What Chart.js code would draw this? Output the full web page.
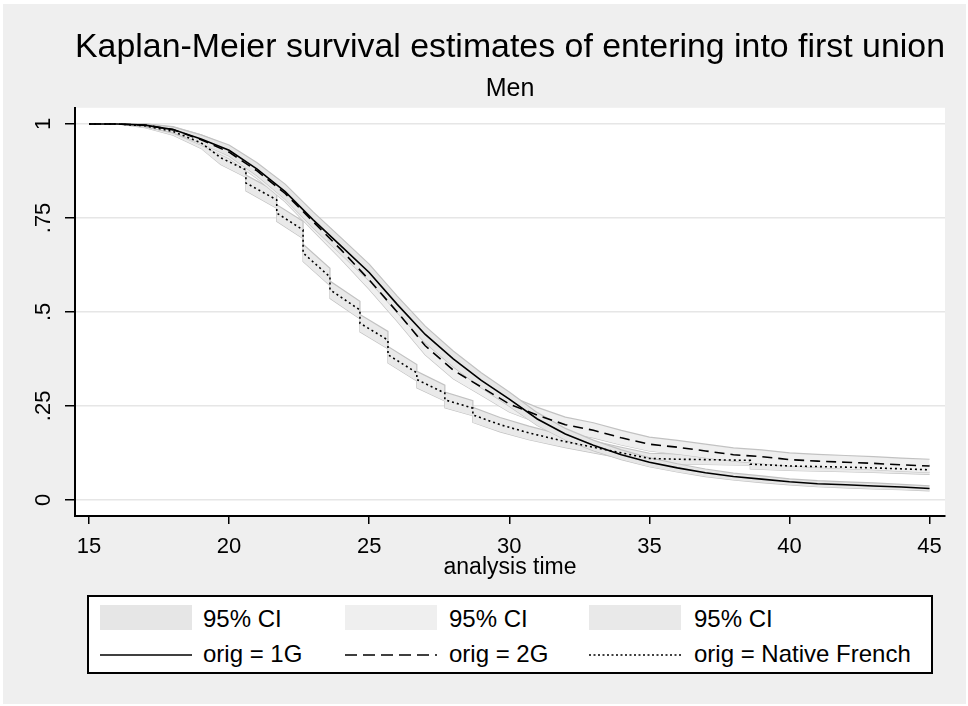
<!DOCTYPE html>
<html>
<head>
<meta charset="utf-8">
<script src="https://cdn.jsdelivr.net/npm/chart.js@4.4.1/dist/chart.umd.min.js"></script>
<style>
	body { margin: 0; background: #fff; font-family: "Liberation Sans", Arial, sans-serif; }
	.frame { position: absolute; left: 3px; top: 4px; width: 963px; height: 700px; background: #efefef; }
	.wrap { position: absolute; left: 0; top: 0; width: 968px; height: 706px; }
	.legend { position: absolute; left: 87px; top: 595px; width: 846px; height: 79px; box-sizing: border-box; border: 2px solid #000; background: #fff; }
	.legend .sw { position: absolute; width: 92px; height: 25px; }
	.legend .txt { position: absolute; font-size: 24px; line-height: 28px; color: #000; white-space: nowrap; }
	.legend svg { position: absolute; }
</style>
</head>
<body>
<div class="frame"></div>
<div class="wrap"><canvas id="kmChart" width="968" height="706"></canvas></div>
<div class="legend" id="legend"></div>

<script>
/*
 * 데이터
 */
const xTicks = [15, 20, 25, 30, 35, 40, 45];
const yTicks = [0, 0.25, 0.5, 0.75, 1];
const yTickLabels = ['0', '.25', '.5', '.75', '1'];

// orig = 1G
const time1G = [15, 16, 17, 18, 19, 20, 21, 22, 23, 24, 25, 26, 27, 28, 29, 30, 31, 32, 33, 34, 35, 36, 37, 38, 39, 40, 41, 42, 43, 44, 45];
const surv1G = [1, 1, 0.997, 0.985, 0.96, 0.93, 0.88, 0.82, 0.745, 0.675, 0.605, 0.52, 0.44, 0.375, 0.318, 0.268, 0.215, 0.175, 0.145, 0.12, 0.1, 0.085, 0.072, 0.062, 0.055, 0.048, 0.043, 0.04, 0.037, 0.034, 0.03];
const low1G = [1, 1, 0.993, 0.977, 0.948, 0.915, 0.862, 0.8, 0.724, 0.653, 0.583, 0.498, 0.418, 0.354, 0.298, 0.249, 0.198, 0.16, 0.131, 0.107, 0.088, 0.074, 0.062, 0.053, 0.046, 0.04, 0.035, 0.032, 0.029, 0.027, 0.024];
const high1G = [1, 1, 1, 0.992, 0.971, 0.944, 0.897, 0.84, 0.766, 0.697, 0.627, 0.542, 0.462, 0.396, 0.338, 0.287, 0.232, 0.19, 0.159, 0.133, 0.112, 0.096, 0.082, 0.071, 0.064, 0.056, 0.051, 0.048, 0.045, 0.041, 0.037];

// orig = 2G
const time2G = [15, 16, 17, 18, 19, 20, 21, 22, 23, 24, 25, 26, 27, 28, 29, 30, 31, 32, 33, 34, 35, 36, 37, 38, 39, 40, 41, 42, 43, 44, 45];
const surv2G = [1, 1, 0.997, 0.985, 0.958, 0.925, 0.875, 0.815, 0.74, 0.665, 0.585, 0.5, 0.41, 0.345, 0.3, 0.255, 0.225, 0.2, 0.185, 0.165, 0.148, 0.14, 0.13, 0.12, 0.115, 0.107, 0.103, 0.1, 0.097, 0.093, 0.09];
const low2G = [1, 1, 0.993, 0.976, 0.944, 0.908, 0.855, 0.793, 0.716, 0.64, 0.56, 0.475, 0.386, 0.322, 0.278, 0.234, 0.205, 0.18, 0.165, 0.146, 0.13, 0.122, 0.112, 0.103, 0.097, 0.09, 0.086, 0.083, 0.08, 0.076, 0.073];
const high2G = [1, 1, 1, 0.993, 0.971, 0.941, 0.894, 0.836, 0.763, 0.69, 0.61, 0.525, 0.434, 0.368, 0.322, 0.277, 0.246, 0.22, 0.205, 0.185, 0.167, 0.158, 0.148, 0.138, 0.133, 0.125, 0.121, 0.118, 0.115, 0.111, 0.108];

// orig = Native French (계단이 보이는 곳은 같은 시점을 두 번)
const timeNF = [15, 16, 17, 18, 19, 19.7, 20.6, 20.6, 21.7, 21.7, 22.64, 22.64, 23.6, 23.6, 24.67, 24.67, 25.67, 25.67, 26.7, 26.7, 27.7, 27.7, 28.7, 28.7, 29.67, 30.7, 32, 33, 34, 35, 36, 37, 38.6, 38.6, 40, 42, 43, 45];
const survNF = [1, 1, 0.995, 0.98, 0.95, 0.91, 0.878, 0.843, 0.798, 0.763, 0.718, 0.657, 0.593, 0.559, 0.505, 0.47, 0.425, 0.386, 0.338, 0.32, 0.284, 0.266, 0.244, 0.226, 0.2, 0.178, 0.155, 0.14, 0.125, 0.11, 0.108, 0.107, 0.105, 0.095, 0.09, 0.087, 0.085, 0.08];
const lowNF = [1, 1, 0.99, 0.97, 0.935, 0.892, 0.858, 0.822, 0.776, 0.741, 0.695, 0.634, 0.57, 0.536, 0.482, 0.447, 0.402, 0.364, 0.316, 0.298, 0.263, 0.245, 0.224, 0.206, 0.181, 0.16, 0.139, 0.125, 0.111, 0.097, 0.095, 0.094, 0.092, 0.082, 0.078, 0.075, 0.073, 0.068];
const highNF = [1, 1, 0.999, 0.988, 0.963, 0.928, 0.898, 0.864, 0.82, 0.785, 0.741, 0.68, 0.616, 0.582, 0.528, 0.493, 0.448, 0.408, 0.36, 0.342, 0.305, 0.287, 0.264, 0.246, 0.219, 0.196, 0.171, 0.156, 0.14, 0.124, 0.122, 0.121, 0.119, 0.109, 0.103, 0.1, 0.098, 0.093];

const FONT = '"Liberation Sans", Arial, sans-serif';

const toPoints = (xs, ys) => xs.map((x, i) => ({ x: x, y: ys[i] }));

// 선 데이터셋
const lineSet = (label, xs, ys, dash) => ({
	label: label,
	data: toPoints(xs, ys),
	borderColor: '#000',
	borderWidth: 1.6,
	borderDash: dash,
	pointRadius: 0,
	fill: false,
	tension: 0,
	order: 0
});

// 신뢰구간 (위 경계가 아래 경계까지 채움)
const bandSet = (xs, ys, bg, fillTo) => ({
	label: '95% CI',
	data: toPoints(xs, ys),
	borderColor: '#c2c2c2',
	borderWidth: 1.2,
	backgroundColor: bg,
	pointRadius: 0,
	fill: fillTo,
	tension: 0,
	order: 1
});

const bg1G = '#e6e6e6';
const bg2G = '#efefef';
const bgNF = '#e9e9e9';

// 그림 영역 흰 배경
const plotBg = {
	id: 'plotBg',
	beforeDraw(chart) {
		const a = chart.chartArea;
		const ctx = chart.ctx;
		ctx.save();
		ctx.fillStyle = '#fff';
		ctx.fillRect(a.left, a.top, a.right - a.left, a.bottom - a.top);
		ctx.restore();
	}
};

new Chart(document.getElementById('kmChart'), {
	type: 'line',
	data: {
		datasets: [
			lineSet('orig = 1G', time1G, surv1G, []),
			lineSet('orig = 2G', time2G, surv2G, [10, 6]),
			lineSet('orig = Native French', timeNF, survNF, [2, 3]),
			bandSet(time1G, high1G, bg1G, '+1'),
			bandSet(time1G, low1G, bg1G, false),
			bandSet(time2G, high2G, bg2G, '+1'),
			bandSet(time2G, low2G, bg2G, false),
			bandSet(timeNF, highNF, bgNF, '+1'),
			bandSet(timeNF, lowNF, bgNF, false)
		]
	},
	plugins: [plotBg],
	options: {
		responsive: false,
		animation: false,
		layout: { padding: { left: 0, right: 23, top: 0, bottom: 120 } },
		plugins: {
			legend: { display: false },
			tooltip: { enabled: false },
			title: {
				display: true,
				fullSize: false,
				text: 'Kaplan-Meier survival estimates of entering into first union',
				color: '#000',
				font: { family: FONT, size: 34, weight: 'normal' },
				padding: { top: 27, bottom: 4 }
			},
			subtitle: {
				display: true,
				fullSize: false,
				text: 'Men',
				color: '#000',
				font: { family: FONT, size: 25, weight: 'normal' },
				padding: { top: 2, bottom: 4 }
			}
		},
		scales: {
			x: {
				type: 'linear',
				min: 14.5,
				max: 45.55,
				afterBuildTicks: (s) => { s.ticks = xTicks.map(v => ({ value: v })); },
				afterFit: (s) => { s.height = 70; },
				grid: { drawOnChartArea: false, drawTicks: true, tickLength: 8, tickColor: '#000', lineWidth: 1.5 },
				border: { display: true, color: '#000', width: 2 },
				ticks: { color: '#000', font: { family: FONT, size: 22 }, padding: 10, autoSkip: false, maxRotation: 0 },
				title: { display: true, text: 'analysis time', color: '#000', font: { family: FONT, size: 23 }, padding: { top: 0, bottom: 5 } }
			},
			y: {
				min: -0.043,
				max: 1.043,
				afterBuildTicks: (s) => { s.ticks = yTicks.map(v => ({ value: v })); },
				afterFit: (s) => { s.width = 75; },
				grid: { color: '#e6e6e6', lineWidth: 1.5, drawTicks: true, tickLength: 10, tickColor: '#000' },
				border: { display: true, color: '#000', width: 2 },
				ticks: {
					color: '#000',
					font: { family: FONT, size: 22 },
					autoSkip: false,
					minRotation: 90,
					maxRotation: 90,
					crossAlign: 'center',
					padding: 6,
					callback: (v) => yTickLabels[yTicks.indexOf(v)]
				}
			}
		}
	}
});

/*
 * 범례 (3열 x 2행)
 */
const legendEl = document.getElementById('legend');
const legendCols = [
	{ sw: bg1G, label: 'orig = 1G', dash: '' },
	{ sw: bg2G, label: 'orig = 2G', dash: '12 6' },
	{ sw: bgNF, label: 'orig = Native French', dash: '2 2.5' }
];
const colLeft = [11, 256, 500]; // 범례 상자 안쪽 기준
const txtLeft = [114, 360, 605];

legendCols.forEach((c, i) => {
	const sw = document.createElement('div');
	sw.className = 'sw';
	sw.style.left = colLeft[i] + 'px';
	sw.style.top = '8px';
	sw.style.background = c.sw;
	legendEl.appendChild(sw);

	const t1 = document.createElement('div');
	t1.className = 'txt';
	t1.style.left = txtLeft[i] + 'px';
	t1.style.top = '8px';
	t1.textContent = '95% CI';
	legendEl.appendChild(t1);

	const svg = document.createElementNS('http://www.w3.org/2000/svg', 'svg');
	svg.setAttribute('width', '92');
	svg.setAttribute('height', '6');
	svg.style.left = colLeft[i] + 'px';
	svg.style.top = '55px';
	const ln = document.createElementNS('http://www.w3.org/2000/svg', 'line');
	ln.setAttribute('x1', '0');
	ln.setAttribute('x2', '92');
	ln.setAttribute('y1', '3');
	ln.setAttribute('y2', '3');
	ln.setAttribute('stroke', '#000');
	ln.setAttribute('stroke-width', '1.6');
	if (c.dash) ln.setAttribute('stroke-dasharray', c.dash);
	svg.appendChild(ln);
	legendEl.appendChild(svg);

	const t2 = document.createElement('div');
	t2.className = 'txt';
	t2.style.left = txtLeft[i] + 'px';
	t2.style.top = '43px';
	t2.textContent = c.label;
	legendEl.appendChild(t2);
});
</script>
</body>
</html>
